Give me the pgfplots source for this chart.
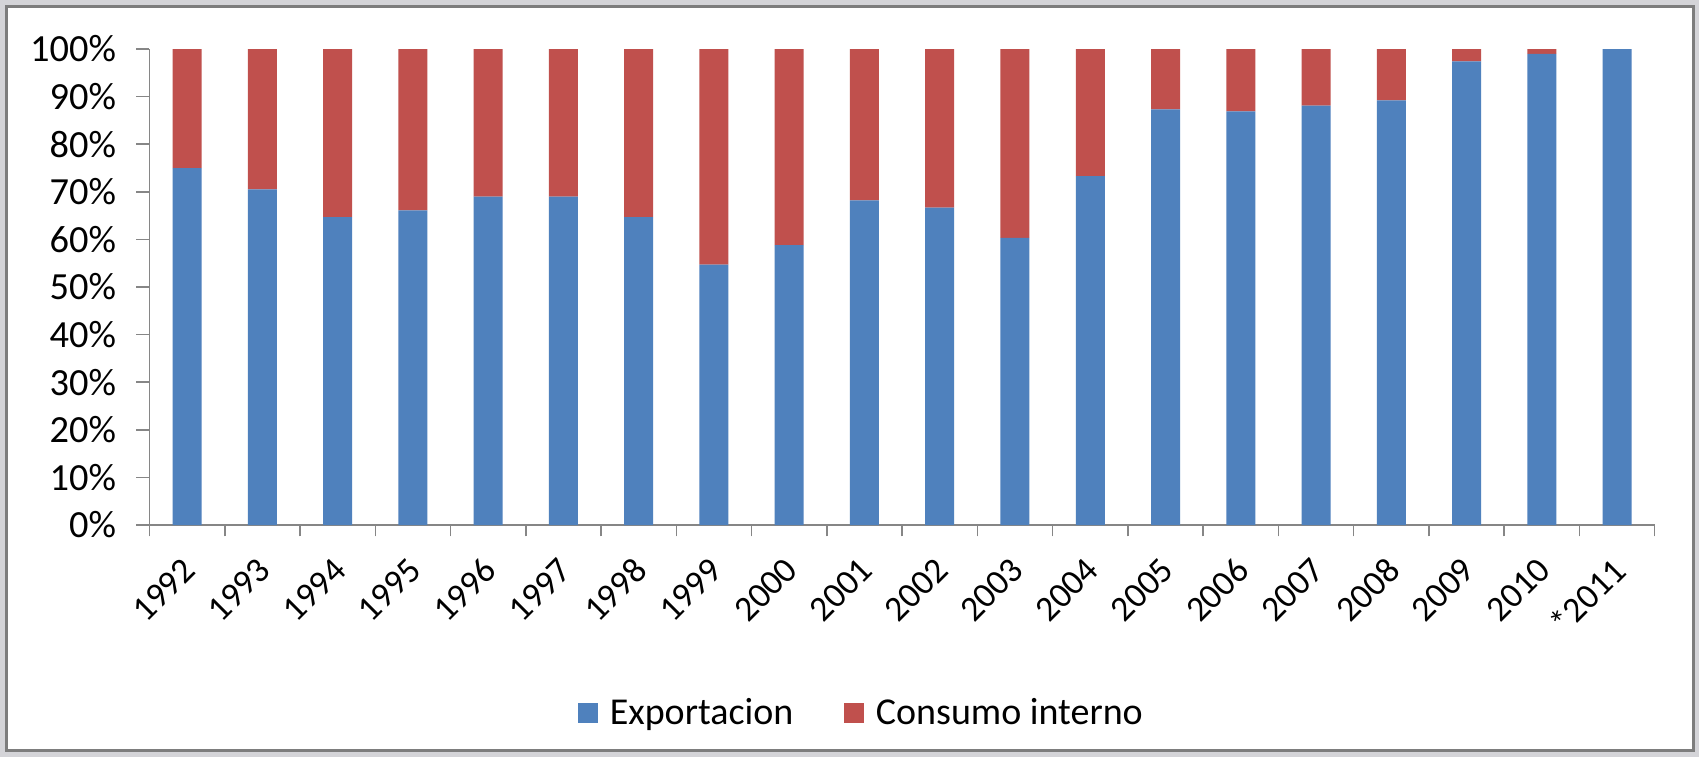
\documentclass[border=0pt]{standalone}
\usepackage{pgfplots}
\pgfplotsset{compat=1.18}
\usepackage{fontspec}
\setmainfont{Carlito}
\definecolor{expc}{RGB}{79,129,189}
\definecolor{conc}{RGB}{192,80,77}
\definecolor{axgray}{RGB}{134,134,134}
\definecolor{bggray}{RGB}{212,212,216}
\definecolor{framegray}{RGB}{125,125,125}
\pgfplotstableread{
x exp con
0 75.0 25.0
1 70.5 29.5
2 64.7 35.3
3 66.1 33.9
4 69.0 31.0
5 69.0 31.0
6 64.7 35.3
7 54.7 45.3
8 58.8 41.2
9 68.2 31.8
10 66.7 33.3
11 60.3 39.7
12 73.3 26.7
13 87.3 12.7
14 86.9 13.1
15 88.1 11.9
16 89.2 10.8
17 97.4 2.6
18 99.0 1.0
19 100.0 0.0
}\datatable
\begin{document}
\begin{tikzpicture}[x=1pt,y=1pt]
\fill[bggray] (0,0) rectangle (849.5,378.5);
\filldraw[fill=white, draw=framegray, line width=1.5pt] (3,3.5) rectangle (846.5,375);
\begin{axis}[
  at={(74.75pt,116pt)}, anchor=south west,
  scale only axis, width=752.6pt, height=238pt,
  ybar stacked, bar width=14.5pt,
  xmin=-0.5, xmax=19.5, ymin=0, ymax=100,
  enlarge x limits=false, enlarge y limits=false,
  axis x line*=bottom, axis y line*=left,
  axis line style={draw=axgray, line width=0.75pt, -},
  tick align=outside,
  xtick={0,...,19},
  xticklabels={1992,1993,1994,1995,1996,1997,1998,1999,2000,2001,2002,2003,2004,2005,2006,2007,2008,2009,2010,*2011},
  major x tick style={draw=none},
  minor xtick={-0.5,0.5,...,19.5},
  minor tick length=5.7pt,
  major tick length=6.5pt,
  every tick/.style={draw=axgray, line width=0.75pt},
  minor x tick style={draw=axgray, line width=0.75pt},
  ytick={0,10,...,100},
  yticklabels={0\%,10\%,20\%,30\%,40\%,50\%,60\%,70\%,80\%,90\%,100\%},
  yticklabel style={font=\fontsize{19.2}{23}\selectfont, text=black, xshift=-6.7pt},
  xticklabel style={font=\fontsize{17.8}{21}\selectfont, text=black, xshift=3.5pt, yshift=-10.7pt, rotate=45, anchor=east},
  legend style={at={(0.4737,-0.395)}, anchor=center, draw=none, fill=none,
    font=\fontsize{19}{23}\selectfont,
    /tikz/every even column/.append style={column sep=23.5pt}},
  legend columns=2,
  legend image code/.code={\fill (0pt,-5pt) rectangle (10pt,5pt); \path (13.8pt,0pt);},
]
\addplot[fill=expc, draw=none] table[x=x, y=exp] {\datatable};
\addplot[fill=conc, draw=none] table[x=x, y=con] {\datatable};
\legend{Exportacion, Consumo interno}
\end{axis}
\end{tikzpicture}
\end{document}
